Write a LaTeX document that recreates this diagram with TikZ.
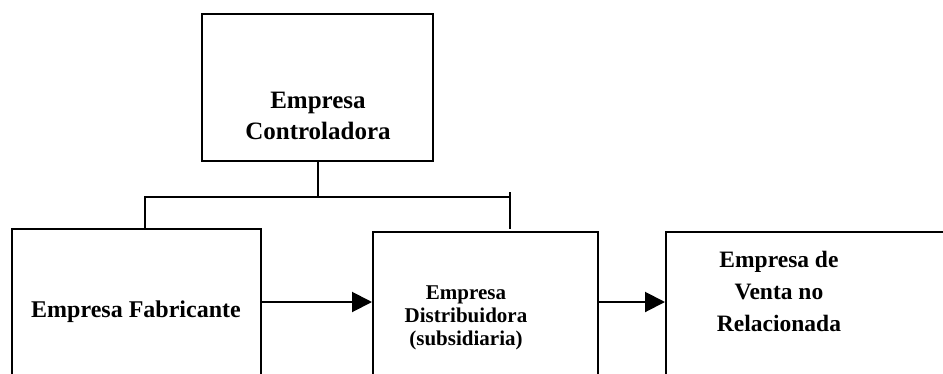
\documentclass[tikz,border=0pt]{standalone}
\usepackage{fontspec}
\setmainfont{Liberation Serif}
\usetikzlibrary{arrows.meta}

\begin{document}
\begin{tikzpicture}[x = 1pt, y = -1pt, line width = 2pt,
    box/.style = {draw, rectangle, inner sep = 0pt},
    boxtext/.style = {align = center, inner sep = 0pt},
    > = {Triangle[length = 20pt, width = 20pt]}]
  \useasboundingbox (0, 0) rectangle (943, 373);
  \clip (0, 0) rectangle (943, 373);
  % boxes (the lower ones run past the frame)
  \node [box, minimum width = 231pt, minimum height = 147pt] (ctrl) at (317.5, 87.5) {};
  \node [box, minimum width = 249pt, minimum height = 146pt] (fab) at (136.5, 302) {};
  \node [box, minimum width = 225pt, minimum height = 168pt] (dist) at (485.5, 316) {};
  \node [box, minimum width = 314pt, minimum height = 168pt] (sale) at (823, 316) {};
  % texts
  \node [boxtext, font = \bfseries\fontsize{25}{31}\selectfont] (ctrltxt) at (318, 116) {Empresa\\Controladora};
  \node [boxtext, font = \bfseries\fontsize{24}{29}\selectfont] (fabtxt) at (136, 312) {Empresa Fabricante};
  \node [boxtext, font = \bfseries\fontsize{21}{23}\selectfont] (disttxt) at (466, 318) {Empresa\\Distribuidora\\(subsidiaria)};
  \node [boxtext, font = \bfseries\fontsize{23.5}{32}\selectfont] (saletxt) at (779, 291) {Empresa de\\Venta no\\Relacionada};
  % connectors from the top box
  \coordinate (busL) at (145, 197);
  \coordinate (busR) at (510, 197);
  \coordinate (tickT) at (510, 192);
  \coordinate (tickB) at (510, 229);
  \draw (ctrl.south) -- (ctrl.south |- busL);
  \draw (busL |- fab.north) -- (busL) -- (busR);
  \draw (tickT) -- (tickB);
  % flow between the lower boxes
  \draw [->] (fab.east) -- (dist.west |- fab.east);
  \draw [->] (dist.east |- fab.east) -- (sale.west |- fab.east);
\end{tikzpicture}
\end{document}
